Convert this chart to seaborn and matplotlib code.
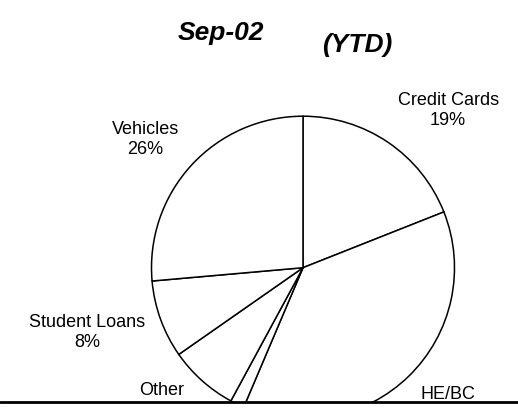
import matplotlib
matplotlib.use("Agg")
import matplotlib.pyplot as plt
import numpy as np
import seaborn as sns

# slice shares, clockwise from 12 o'clock
categories = ["Credit Cards", "HE/BC", "", "Other", "Student Loans", "Vehicles"]
shares = [19.0, 37.4, 1.5, 7.4, 8.3, 26.4]
title_date = "Sep-02"
title_period = "(YTD)"

sns.set_style("white")
plt.rcParams["font.family"] = ["Liberation Sans", "DejaVu Sans"]
plt.rcParams["text.color"] = "black"

W, H = 518, 409
fig = plt.figure(figsize=(W / 100, H / 100), dpi=100)
base = 7.5  # the heavy rule at the bottom cuts the chart off
ax = fig.add_axes([0, base / H, 1, (H - base) / H])

cx, cy, r = 303, H - 267.7, 151.5
wedges, _ = ax.pie(shares, startangle=90, counterclock=False, center=(cx, cy), radius=r,
                   colors=["white"] * len(shares), frame=True,
                   wedgeprops={"edgecolor": "black", "linewidth": 1.1})
ax.set_xlim(0, W)
ax.set_ylim(base, H)
ax.set_aspect("auto")
ax.set_xticks([])
ax.set_yticks([])
for s in ax.spines.values():
    s.set_visible(False)
for w in wedges:
    w.set_clip_on(True)
    w.set_clip_path(ax.patch)

# labels placed outside the rim, excel style
# (the Other label got pushed up a bit in the original)
nudge = {"Other": (-7, 9)}
total = sum(shares)
box_h = 44
for w, name, v in zip(wedges, categories, shares):
    if not name:
        continue
    ang = np.deg2rad((w.theta1 + w.theta2) / 2)
    c, s = np.cos(ang), np.sin(ang)
    dx, dy = nudge.get(name, (0, 0))
    tx = cx + 1.11 * r * c + dx
    ty = cy + 1.11 * r * s + s * box_h / 2 + dy
    ax.text(tx, ty, f"{name}\n{round(v * 100 / total)}%", fontsize=13, color="black",
            ha="left" if c > 0 else "right", va="center", multialignment="center",
            linespacing=1.2, clip_on=True)

ax.axhline(base, color="black", linewidth=2, clip_on=False)

fig.text(221 / W, 1 - 33 / H, title_date, fontsize=19, fontweight="bold", fontstyle="italic",
         ha="center", va="center", color="black")
fig.text(357 / W, 1 - 45 / H, title_period, fontsize=19, fontweight="bold", fontstyle="italic",
         ha="center", va="center", color="black")

fig.savefig("out.png", dpi=100, facecolor="white")
